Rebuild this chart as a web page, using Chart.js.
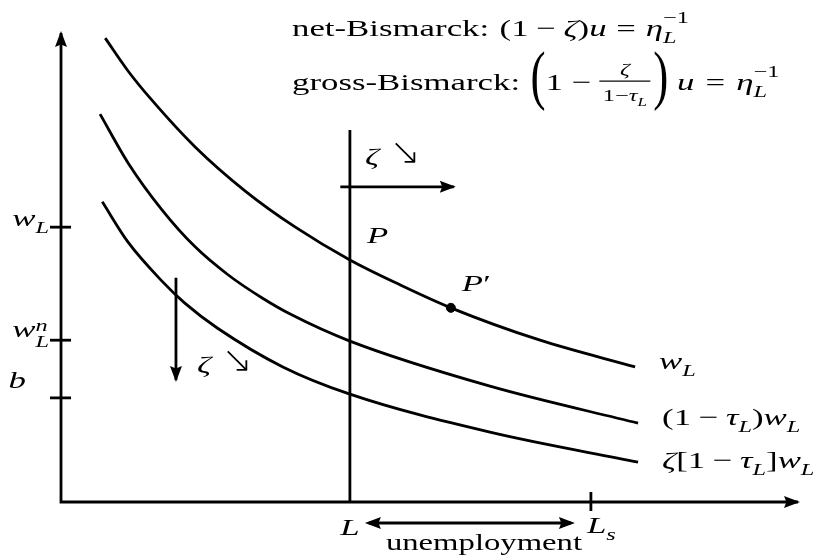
<!DOCTYPE html>
<html>
<head>
<meta charset="utf-8">
<script src="https://cdn.jsdelivr.net/npm/chart.js@4.4.1/dist/chart.umd.min.js"></script>
<style>
  html, body { margin: 0; padding: 0; background: #fff; }
  #wrap { width: 822px; height: 560px; }
</style>
</head>
<body>
<div id="wrap"><canvas id="bismarckChart" width="822" height="560"></canvas></div>
<script>
// diagram units: labour on x, wage on y, both 0..100

// w_L curve
var wageX = [6.0, 9.1, 12.1, 18.2, 25.0, 31.8, 39.2, 46.0, 52.9, 65.0, 77.9];
var wageY = [98.9, 91.9, 86.1, 75.7, 66.3, 58.6, 51.6, 46.3, 41.4, 34.5, 28.8];
// (1 - tau_L) w_L curve
var netX = [5.3, 9.1, 13.7, 18.2, 22.7, 27.3, 31.3, 39.2, 58.2, 78.3];
var netY = [82.7, 72.3, 62.3, 54.4, 48.4, 43.5, 39.9, 34.3, 24.7, 16.8];
// zeta [1 - tau_L] w_L curve
var benefitX = [5.6, 9.1, 13.7, 16.8, 21.2, 30.1, 39.2, 58.2, 78.3];
var benefitY = [64.0, 55.4, 47.1, 42.4, 37.1, 28.8, 23.0, 14.9, 8.5];

var employment = 39.2;      // L
var labourSupply = 71.9;    // L_s
var employmentTop = 79.3;   // top of the L line
var yTickValues = [58.6, 34.5, 22.2];   // w_L, w_L^n, b
var pPrime = [52.9, 41.4];
var shiftArrowX = [37.9, 53.3];
var shiftArrowY = 67.2;
var dropArrowX = 15.6;
var dropArrowY = [47.8, 26.0];

var SERIF = '"Liberation Serif", "Times New Roman", serif';
var SX = 1.45;     // horizontal stretch of the lettering
var FS = 24;

function R(t) { return { t: t }; }
function I(t) { return { t: t, i: true }; }
var SEARROW = { t: '↘', fam: '"DejaVu Sans"', w: 200, s: 1.55, ns: true };

function runFont(r, size) {
  return (r.i ? 'italic ' : '') + (r.w ? r.w + ' ' : '') + size + 'px ' + (r.fam || SERIF);
}

// lays out a list of runs; numbers are gaps in em
function layoutRuns(ctx, runs, size, draw) {
  var cx = 0;
  runs.forEach(function (r) {
    if (typeof r === 'number') { cx += r * size; return; }
    if (r.frac) {
      var fs = size * 0.7;
      var nw = layoutRuns(ctx, r.frac[0], fs, false);
      var dw = layoutRuns(ctx, r.frac[1], fs, false);
      var w = Math.max(nw, dw) + 0.36 * size;
      if (draw) {
        var bar = -0.37 * size;
        ctx.save(); ctx.translate(cx + (w - nw) / 2, bar - 0.24 * size);
        layoutRuns(ctx, r.frac[0], fs, true); ctx.restore();
        ctx.save(); ctx.translate(cx + (w - dw) / 2, bar + 0.82 * size);
        layoutRuns(ctx, r.frac[1], fs, true); ctx.restore();
        ctx.fillRect(cx + 0.08 * size, bar - 0.6, w - 0.16 * size, 1.2);
      }
      cx += w; return;
    }
    if (r.big) {
      ctx.font = runFont({}, size);
      var bw = ctx.measureText(r.big).width * r.kx;
      if (draw) {
        ctx.save();
        ctx.translate(cx, -0.37 * size);
        ctx.scale(r.kx, r.k);
        ctx.fillText(r.big, 0, 0.25 * size);
        ctx.restore();
      }
      cx += bw; return;
    }
    if (r.sub || r.sup) {
      var ss = size * 0.7, w1 = 0, w2 = 0;
      if (r.sub) {
        w1 = layoutRuns(ctx, r.sub, ss, false);
        if (draw) { ctx.save(); ctx.translate(cx, (r.dn || 0.29) * size); layoutRuns(ctx, r.sub, ss, true); ctx.restore(); }
      }
      if (r.sup) {
        w2 = layoutRuns(ctx, r.sup, ss, false);
        if (draw) { ctx.save(); ctx.translate(cx, -(r.up || 0.45) * size); layoutRuns(ctx, r.sup, ss, true); ctx.restore(); }
      }
      cx += Math.max(w1, w2); return;
    }
    ctx.font = runFont(r, size * (r.s || 1));
    var tw = ctx.measureText(r.t).width;
    var k = r.ns ? 1 / SX : 1;     // ns: glyph keeps its own proportions
    if (draw) {
      ctx.save(); ctx.translate(cx, 0); ctx.scale(k, 1);
      ctx.fillText(r.t, 0, 0);
      ctx.restore();
    }
    cx += tw * k;
  });
  return cx;
}

function drawMath(ctx, x, y, runs, align) {
  ctx.save();
  ctx.fillStyle = '#000';
  ctx.textAlign = 'left';
  ctx.textBaseline = 'alphabetic';
  var w = layoutRuns(ctx, runs, FS, false) * SX;
  var left = align === 'right' ? x - w : (align === 'center' ? x - w / 2 : x);
  ctx.translate(left, y);
  ctx.scale(SX, 1);
  layoutRuns(ctx, runs, FS, true);
  ctx.restore();
  return w;
}

function drawArrowHead(ctx, x, y, ang) {
  var len = 16, half = 6;
  ctx.save();
  ctx.translate(x, y);
  ctx.rotate(ang);
  ctx.beginPath();
  ctx.moveTo(2, 0);
  ctx.lineTo(2 - len, -half);
  ctx.lineTo(2 - len * 0.85, 0);
  ctx.lineTo(2 - len, half);
  ctx.closePath();
  ctx.fillStyle = '#000';
  ctx.fill();
  ctx.restore();
}

function pairs(xs, ys) {
  return xs.map(function (x, i) { return { x: x, y: ys[i] }; });
}

var LW = 2.8;

var diagramPlugin = {
  id: 'diagram',
  afterDatasetsDraw: function (chart) {
    var ctx = chart.ctx;
    var xs = chart.scales.x, ys = chart.scales.y;
    var x0 = xs.getPixelForValue(0), y0 = ys.getPixelForValue(0);

    // arrowheads on the flagged datasets
    chart.data.datasets.forEach(function (ds, i) {
      var pts = chart.getDatasetMeta(i).data;
      if (ds.arrowEnd) {
        var a = pts[pts.length - 2], b = pts[pts.length - 1];
        drawArrowHead(ctx, b.x, b.y, Math.atan2(b.y - a.y, b.x - a.x));
      }
      if (ds.arrowStart) {
        var c = pts[1], d = pts[0];
        drawArrowHead(ctx, d.x, d.y, Math.atan2(d.y - c.y, d.x - c.x));
      }
    });

    ctx.save();
    ctx.strokeStyle = '#000';
    ctx.lineWidth = LW;
    // ticks on the wage axis
    yTickValues.forEach(function (v) {
      var py = ys.getPixelForValue(v);
      ctx.beginPath(); ctx.moveTo(x0 - 11, py); ctx.lineTo(x0 + 10, py); ctx.stroke();
    });
    // L_s tick
    var pLs = xs.getPixelForValue(labourSupply);
    ctx.beginPath(); ctx.moveTo(pLs, y0 - 10); ctx.lineTo(pLs, y0 + 9); ctx.stroke();
    // unemployment arrow between L and L_s
    var pL = xs.getPixelForValue(employment);
    var ua = y0 + 21;
    ctx.beginPath(); ctx.moveTo(pL + 19, ua); ctx.lineTo(pLs - 20, ua); ctx.stroke();
    ctx.restore();
    drawArrowHead(ctx, pL + 17, ua, Math.PI);
    drawArrowHead(ctx, pLs - 18, ua, 0);

    // axis labels
    var tk = yTickValues.map(function (v) { return ys.getPixelForValue(v); });
    drawMath(ctx, x0 - 12, tk[0] - 1, [I('w'), { sub: [I('L')] }], 'right');
    drawMath(ctx, x0 - 12, tk[1] - 3, [I('w'), { sub: [I('L')], sup: [I('n')], dn: 0.42, up: 0.25 }], 'right');
    drawMath(ctx, x0 - 35, tk[2] - 10, [I('b')], 'right');
    drawMath(ctx, pL, y0 + 33, [I('L')], 'center');
    drawMath(ctx, pLs - 4, y0 + 31, [I('L'), { sub: [I('s')] }]);
    drawMath(ctx, pL + 36, y0 + 48, [{ t: 'unemployment', s: 0.94 }]);

    // curve labels
    var ends = [[wageX, wageY, 2], [netX, netY, 2], [benefitX, benefitY, 6]];
    var names = [
      [I('w'), { sub: [I('L')] }],
      [R('(1'), 0.22, R('−'), 0.22, I('τ'), { sub: [I('L')] }, R(')'), I('w'), { sub: [I('L')] }],
      [I('ζ'), R('[1'), 0.22, R('−'), 0.22, I('τ'), { sub: [I('L')] }, R(']'), I('w'), { sub: [I('L')] }]
    ];
    ends.forEach(function (e, i) {
      var n = e[0].length - 1;
      drawMath(ctx, xs.getPixelForValue(e[0][n]) + 24, ys.getPixelForValue(e[1][n]) + e[2], names[i]);
    });

    // points P and P'
    drawMath(ctx, pL + 17, ys.getPixelForValue(wageY[6]) - 17, [I('P')]);
    drawMath(ctx, xs.getPixelForValue(pPrime[0]) + 11, ys.getPixelForValue(pPrime[1]) - 17, [I('P'), R('′')]);

    // zeta shift notes
    var sy = ys.getPixelForValue(shiftArrowY);
    drawMath(ctx, pL + 15, sy - 23, [I('ζ'), 0.3, SEARROW]);
    var dx = xs.getPixelForValue(dropArrowX);
    drawMath(ctx, dx + 21, ys.getPixelForValue(dropArrowY[1]) - 8, [I('ζ'), 0.3, SEARROW]);

    // headline formulas
    var eta = { sub: [I('L')], sup: [R('−1')], dn: 0.3, up: 0.55 };
    drawMath(ctx, 292, 36, [R('net-Bismarck:'), 0.3, R('(1'), 0.22, R('−'), 0.22, I('ζ'), R(')'), I('u'), 0.28, R('='), 0.28, I('η'), eta]);
    drawMath(ctx, 292, 90, [R('gross-Bismarck:'), 0.3, { big: '(', k: 2.7, kx: 1.3 }, R('1'), 0.25, R('−'), 0.15,
      { frac: [[I('ζ')], [R('1−'), I('τ'), { sub: [I('L')] }]] }, { big: ')', k: 2.7, kx: 1.3 }, 0.25,
      I('u'), 0.32, R('='), 0.32, I('η'), eta]);
  }
};

var lineStyle = {
  showLine: true,
  borderColor: '#000',
  borderWidth: LW,
  pointRadius: 0,
  fill: false,
  clip: false
};

function lineSet(data, extra) {
  return Object.assign({}, lineStyle, { data: data }, extra || {});
}

var ctxDiagram = document.getElementById('bismarckChart').getContext('2d');
var diagramChart = new Chart(ctxDiagram, {
  type: 'scatter',
  data: {
    datasets: [
      lineSet([{ x: 0, y: 100 }, { x: 0, y: 0 }, { x: 100, y: 0 }], { arrowStart: true, arrowEnd: true, borderJoinStyle: 'miter' }),
      lineSet(pairs(wageX, wageY), { cubicInterpolationMode: 'monotone' }),
      lineSet(pairs(netX, netY), { cubicInterpolationMode: 'monotone' }),
      lineSet(pairs(benefitX, benefitY), { cubicInterpolationMode: 'monotone' }),
      lineSet([{ x: employment, y: 0 }, { x: employment, y: employmentTop }]),
      lineSet([{ x: shiftArrowX[0], y: shiftArrowY }, { x: shiftArrowX[1], y: shiftArrowY }], { arrowEnd: true }),
      lineSet([{ x: dropArrowX, y: dropArrowY[0] }, { x: dropArrowX, y: dropArrowY[1] }], { arrowEnd: true }),
      {
        data: [{ x: pPrime[0], y: pPrime[1] }],
        showLine: false,
        pointRadius: 4.5,
        backgroundColor: '#000',
        borderColor: '#000',
        clip: false
      }
    ]
  },
  options: {
    responsive: false,
    animation: false,
    devicePixelRatio: 1,
    layout: { padding: { left: 61, right: 24, top: 33, bottom: 58 } },
    scales: {
      x: { type: 'linear', min: 0, max: 100, display: false },
      y: { type: 'linear', min: 0, max: 100, display: false }
    },
    plugins: {
      legend: { display: false },
      tooltip: { enabled: false }
    }
  },
  plugins: [diagramPlugin]
});
</script>
</body>
</html>
